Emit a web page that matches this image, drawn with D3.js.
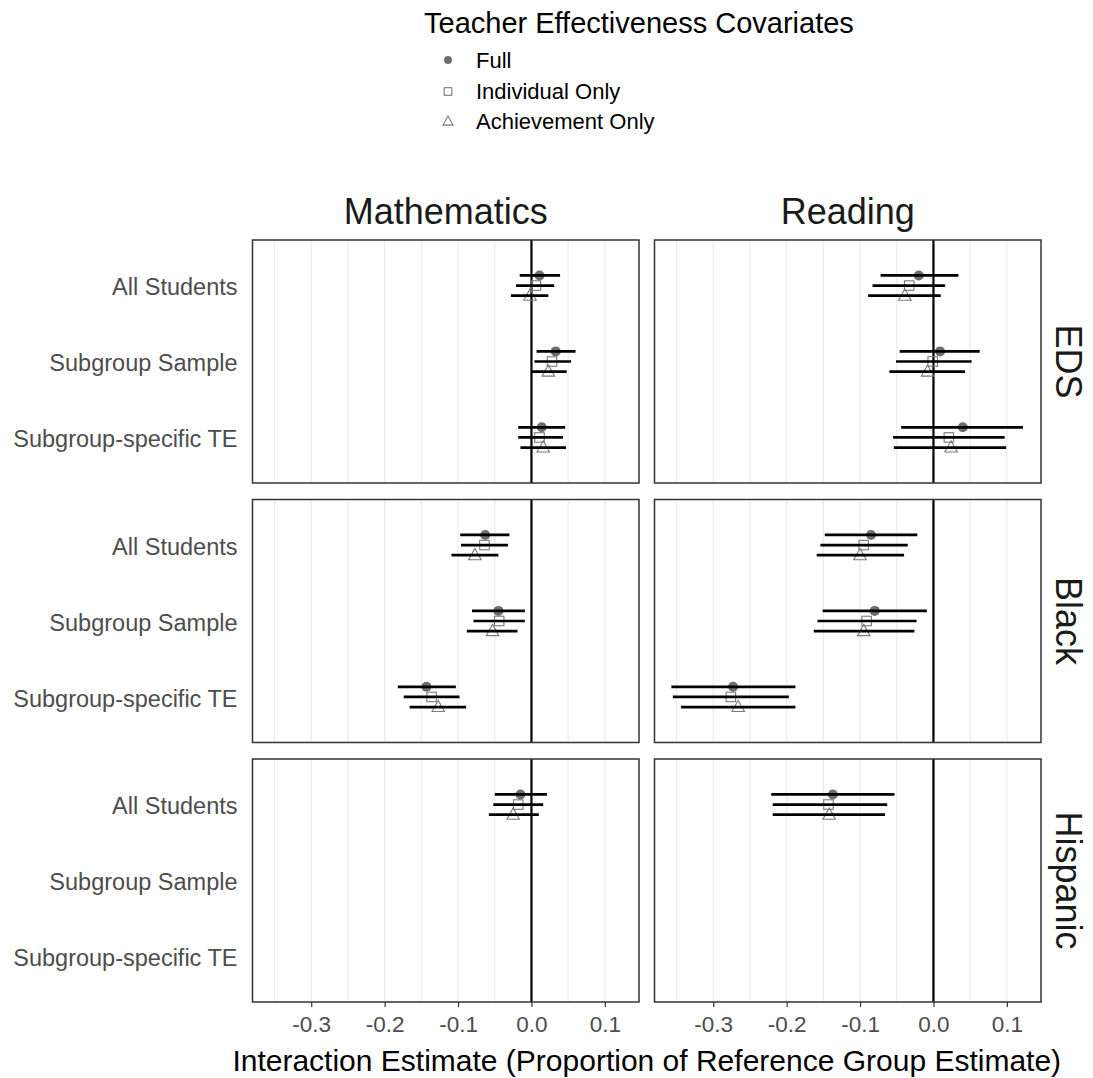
<!DOCTYPE html>
<html>
<head>
<meta charset="utf-8">
<script src="https://cdn.jsdelivr.net/npm/d3@7"></script>
<style>
  html, body { margin: 0; padding: 0; background: #ffffff; }
  svg { display: block; font-family: "Liberation Sans", Arial, sans-serif; }
</style>
</head>
<body>
<svg id="chart" width="1093" height="1078"></svg>
<script>
// ---------------- DATA ----------------
const outcomes = ["Mathematics", "Reading"];
const subgroups = ["EDS", "Black", "Hispanic"];
const samples = ["All Students", "Subgroup Sample", "Subgroup-specific TE"];
const covariates = ["Full", "Individual Only", "Achievement Only"];
const xTicks = [-0.3, -0.2, -0.1, 0.0, 0.1];
const xTickLabels = ["-0.3", "-0.2", "-0.1", "0.0", "0.1"];
const gridValues = [-0.35, -0.3, -0.25, -0.2, -0.15, -0.1, -0.05, 0.05, 0.1];
const legendTitle = "Teacher Effectiveness Covariates";
const xTitle = "Interaction Estimate (Proportion of Reference Group Estimate)";

// rows = samples, columns = covariates (Full, Individual Only, Achievement Only)
const edsMathEst  = [[0.011, 0.006, -0.002], [0.033, 0.028, 0.023], [0.014, 0.011, 0.016]];
const edsMathLow  = [[-0.016, -0.021, -0.028], [0.007, 0.004, 0.000], [-0.018, -0.018, -0.015]];
const edsMathHigh = [[0.039, 0.031, 0.023], [0.060, 0.054, 0.048], [0.046, 0.043, 0.047]];

const edsReadEst  = [[-0.020, -0.033, -0.039], [0.009, -0.001, -0.008], [0.040, 0.021, 0.024]];
const edsReadLow  = [[-0.072, -0.083, -0.089], [-0.046, -0.051, -0.060], [-0.044, -0.055, -0.054]];
const edsReadHigh = [[0.034, 0.016, 0.010], [0.063, 0.052, 0.043], [0.122, 0.097, 0.099]];

const blackMathEst  = [[-0.063, -0.064, -0.077], [-0.045, -0.044, -0.053], [-0.143, -0.136, -0.127]];
const blackMathLow  = [[-0.097, -0.096, -0.109], [-0.081, -0.079, -0.088], [-0.182, -0.174, -0.166]];
const blackMathHigh = [[-0.030, -0.032, -0.045], [-0.009, -0.009, -0.019], [-0.103, -0.098, -0.089]];

const blackReadEst  = [[-0.085, -0.095, -0.100], [-0.080, -0.091, -0.095], [-0.273, -0.276, -0.266]];
const blackReadLow  = [[-0.148, -0.154, -0.159], [-0.151, -0.158, -0.163], [-0.357, -0.355, -0.344]];
const blackReadHigh = [[-0.022, -0.035, -0.040], [-0.009, -0.023, -0.026], [-0.188, -0.197, -0.188]];

const hispMathEst  = [[-0.015, -0.018, -0.025], [null, null, null], [null, null, null]];
const hispMathLow  = [[-0.050, -0.052, -0.058], [null, null, null], [null, null, null]];
const hispMathHigh = [[0.021, 0.016, 0.010], [null, null, null], [null, null, null]];

const hispReadEst  = [[-0.137, -0.143, -0.142], [null, null, null], [null, null, null]];
const hispReadLow  = [[-0.221, -0.219, -0.219], [null, null, null], [null, null, null]];
const hispReadHigh = [[-0.053, -0.063, -0.066], [null, null, null], [null, null, null]];

// lookup for drawing
const panelData = {
  "EDS|Mathematics": [edsMathEst, edsMathLow, edsMathHigh],
  "EDS|Reading": [edsReadEst, edsReadLow, edsReadHigh],
  "Black|Mathematics": [blackMathEst, blackMathLow, blackMathHigh],
  "Black|Reading": [blackReadEst, blackReadLow, blackReadHigh],
  "Hispanic|Mathematics": [hispMathEst, hispMathLow, hispMathHigh],
  "Hispanic|Reading": [hispReadEst, hispReadLow, hispReadHigh]
};

// ---------------- LAYOUT ----------------
const svg = d3.select("#chart");
const panelX0 = [252.5, 654.5];
const panelW = 386.5;
const panelY0 = [240, 499.5, 759];
const panelH = 243;
const xDomain = [-0.380, 0.1465];
const dodge = 0.4 / 3; // in band units
const axisTextColor = "#4D4D4D";

const ptColor = "#6E6E6E";
const openColor = "#7A7A7A";

function drawShape(g, cov, x, y, size) {
  if (cov === "Full") {
    g.append("circle").attr("cx", x).attr("cy", y).attr("r", size * 0.5)
      .attr("fill", ptColor).attr("stroke", "none");
  } else if (cov === "Individual Only") {
    const s = size * 0.95;
    g.append("rect").attr("x", x - s / 2).attr("y", y - s / 2).attr("width", s).attr("height", s)
      .attr("fill", "none").attr("stroke", openColor).attr("stroke-width", 1.1);
  } else {
    const s = size * 1.25;
    const h = s * 0.9;
    const p = d3.path();
    p.moveTo(x, y - h * 0.6);
    p.lineTo(x + s / 2, y + h * 0.4);
    p.lineTo(x - s / 2, y + h * 0.4);
    p.closePath();
    g.append("path").attr("d", p.toString())
      .attr("fill", "none").attr("stroke", openColor).attr("stroke-width", 1.1);
  }
}

subgroups.forEach((sg, ri) => {
  outcomes.forEach((oc, ci) => {
    const x0 = panelX0[ci], y0 = panelY0[ri];
    const x = d3.scaleLinear().domain(xDomain).range([x0, x0 + panelW]);
    const y = d3.scalePoint().domain(samples).range([y0, y0 + panelH]).padding(0.6);
    const step = y.step();
    const g = svg.append("g");

    g.append("rect").attr("x", x0).attr("y", y0).attr("width", panelW).attr("height", panelH)
      .attr("fill", "#ffffff");

    g.selectAll(".grid").data(gridValues).enter().append("line")
      .attr("x1", d => x(d)).attr("x2", d => x(d))
      .attr("y1", y0).attr("y2", y0 + panelH)
      .attr("stroke", "#EBEBEB").attr("stroke-width", 1.2);

    g.append("line").attr("x1", x(0)).attr("x2", x(0)).attr("y1", y0).attr("y2", y0 + panelH)
      .attr("stroke", "#000").attr("stroke-width", 2.2);

    const [est, lo, hi] = panelData[sg + "|" + oc];
    samples.forEach((s, si) => {
      covariates.forEach((cv, k) => {
        if (est[si][k] === null) return;
        const yy = y(s) + (k - 1) * dodge * step;
        drawShape(g, cv, x(est[si][k]), yy, 10);
      });
    });
    samples.forEach((s, si) => {
      covariates.forEach((cv, k) => {
        if (est[si][k] === null) return;
        const yy = y(s) + (k - 1) * dodge * step;
        g.append("line").attr("x1", x(lo[si][k])).attr("x2", x(hi[si][k]))
          .attr("y1", yy).attr("y2", yy)
          .attr("stroke", "#000").attr("stroke-width", 2.7);
      });
    });

    g.append("rect").attr("x", x0).attr("y", y0).attr("width", panelW).attr("height", panelH)
      .attr("fill", "none").attr("stroke", "#333333").attr("stroke-width", 1.5);

    if (ci === 0) {
      samples.forEach(s => {
        svg.append("text").attr("x", 237.5).attr("y", y(s) + 1.5).attr("dy", "0.35em")
          .attr("text-anchor", "end").attr("font-size", 23.5).attr("fill", axisTextColor)
          .text(s);
      });
    }

    if (ri === subgroups.length - 1) {
      const ax = svg.append("g").attr("transform", `translate(0,${y0 + panelH})`)
        .call(d3.axisBottom(x).tickValues(xTicks).tickSize(5).tickPadding(9)
          .tickFormat((d, i) => xTickLabels[i]));
      ax.select(".domain").remove();
      ax.selectAll(".tick line").attr("stroke", "#333333").attr("stroke-width", 1.2);
      ax.selectAll(".tick text").attr("font-size", 22.5).attr("fill", axisTextColor)
        .attr("font-family", "Liberation Sans, Arial, sans-serif");
    }

    if (ri === 0) {
      svg.append("text").attr("x", x0 + panelW / 2).attr("y", 224)
        .attr("text-anchor", "middle").attr("font-size", 36).attr("fill", "#1A1A1A").text(oc);
    }
    if (ci === outcomes.length - 1) {
      svg.append("text").attr("transform", `translate(1056,${y0 + panelH / 2}) rotate(90)`)
        .attr("text-anchor", "middle").attr("font-size", 36).attr("fill", "#1A1A1A").text(sg);
    }
  });
});

svg.append("text").attr("x", (panelX0[0] + panelX0[1] + panelW) / 2).attr("y", 1071)
  .attr("text-anchor", "middle").attr("font-size", 30).attr("fill", "#000").text(xTitle);

const lg = svg.append("g");
lg.append("text").attr("x", 424).attr("y", 33).attr("font-size", 29).attr("fill", "#000").text(legendTitle);
const legendY = [60, 91.5, 121.5];
covariates.forEach((cv, k) => {
  drawShape(lg, cv, 448, legendY[k], 8);
  lg.append("text").attr("x", 476).attr("y", legendY[k]).attr("dy", "0.35em")
    .attr("font-size", 22).attr("fill", "#000").text(cv);
});
</script>
</body>
</html>
